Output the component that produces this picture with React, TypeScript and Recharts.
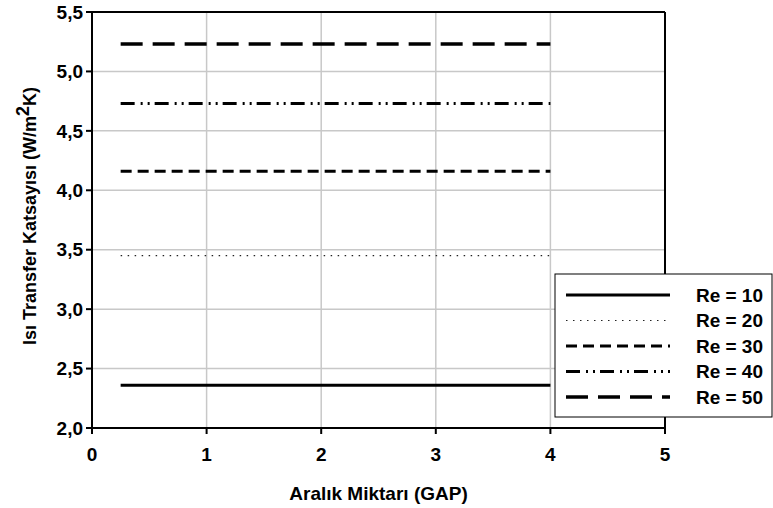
import { LineChart, Line, XAxis, YAxis, CartesianGrid, ReferenceLine } from 'recharts';

const gaps = [0.25, 1, 2, 3, 4];
const re10 = [2.36, 2.36, 2.36, 2.36, 2.36];
const re20 = [3.45, 3.45, 3.45, 3.45, 3.45];
const re30 = [4.16, 4.16, 4.16, 4.16, 4.16];
const re40 = [4.73, 4.73, 4.73, 4.73, 4.73];
const re50 = [5.23, 5.23, 5.23, 5.23, 5.23];
const xTicks = [0, 1, 2, 3, 4, 5];
const yTicks = [2, 2.5, 3, 3.5, 4, 4.5, 5, 5.5];

const data = gaps.map((g, i) => ({
  gap: g,
  re10: re10[i],
  re20: re20[i],
  re30: re30[i],
  re40: re40[i],
  re50: re50[i],
}));

const FONT = '"Liberation Sans", Arial, sans-serif';

const series = [
  { key: 're10', name: 'Re = 10', width: 3, dash: undefined, color: '#000' },
  { key: 're20', name: 'Re = 20', width: 1.2, dash: '1.5 5.5', color: '#222' },
  { key: 're30', name: 'Re = 30', width: 3, dash: '11 6', color: '#000' },
  { key: 're40', name: 'Re = 40', width: 3, dash: '14 6 2 5 2 5', color: '#000' },
  { key: 're50', name: 'Re = 50', width: 3.5, dash: '22 10', color: '#000' },
];

const YTitle = ({ viewBox }: any) => {
  const cx = 30;
  const cy = viewBox.y + viewBox.height / 2 - 4;
  return (
    <text
      x={cx}
      y={cy}
      transform={`rotate(-90 ${cx} ${cy})`}
      textAnchor="middle"
      dominantBaseline="central"
      fontFamily={FONT}
      fontWeight="bold"
      fontSize={18}
      fill="#000"
    >
      Isı Transfer Katsayısı (W/m
      <tspan dy={-7}>2</tspan>
      <tspan dy={7}>K)</tspan>
    </text>
  );
};

// legend drawn next to the chart, from the same series list
const LegendBox = () => (
  <svg
    width={219}
    height={145}
    style={{ position: 'absolute', left: 554, top: 273, display: 'block' }}
  >
    <rect x={1} y={1} width={217} height={143} fill="#fff" stroke="#000" strokeWidth={1} />
    {series.map((s, i) => {
      const y = 22 + i * 25.5;
      return (
        <g key={s.key}>
          <line
            x1={12}
            x2={116}
            y1={y}
            y2={y}
            stroke={s.color}
            strokeWidth={s.width}
            strokeDasharray={s.dash}
          />
          <text
            x={209}
            y={y}
            textAnchor="end"
            dominantBaseline="central"
            fontFamily={FONT}
            fontWeight="bold"
            fontSize={19}
            fill="#000"
          >
            {s.name}
          </text>
        </g>
      );
    })}
  </svg>
);

export default function App() {
  return (
    <div style={{ position: 'absolute', left: 0, top: 0, width: 773, height: 508, background: '#fff' }}>
      <LineChart width={773} height={508} data={data} margin={{ top: 12, right: 108, bottom: 0, left: 0 }}>
        <CartesianGrid stroke="#c8c8c8" strokeWidth={1.5} verticalValues={xTicks} horizontalValues={yTicks} />
        <XAxis
          dataKey="gap"
          type="number"
          domain={[0, 5]}
          ticks={xTicks}
          height={80}
          stroke="#000"
          strokeWidth={2}
          tickSize={6}
          tickMargin={14}
          tick={{ fill: '#000', fontSize: 19, fontWeight: 'bold', fontFamily: FONT }}
          label={{
            value: 'Aralık Miktarı (GAP)',
            position: 'insideBottom',
            offset: 8,
            fill: '#000',
            fontSize: 19,
            fontWeight: 'bold',
            fontFamily: FONT,
          }}
        />
        <YAxis
          type="number"
          domain={[2, 5.5]}
          ticks={yTicks}
          width={92}
          stroke="#000"
          strokeWidth={2}
          tickSize={6}
          tickMargin={3}
          tickFormatter={(v: number) => v.toFixed(1).replace('.', ',')}
          tick={{ fill: '#000', fontSize: 19, fontWeight: 'bold', fontFamily: FONT }}
          label={<YTitle />}
        />
        <ReferenceLine y={5.5} stroke="#000" strokeWidth={2} />
        <ReferenceLine x={5} stroke="#000" strokeWidth={2} />
        {series.map((s) => (
          <Line
            key={s.key}
            dataKey={s.key}
            name={s.name}
            type="linear"
            stroke={s.color}
            strokeWidth={s.width}
            strokeDasharray={s.dash}
            dot={false}
            activeDot={false}
            isAnimationActive={false}
          />
        ))}
      </LineChart>
      <LegendBox />
    </div>
  );
}
